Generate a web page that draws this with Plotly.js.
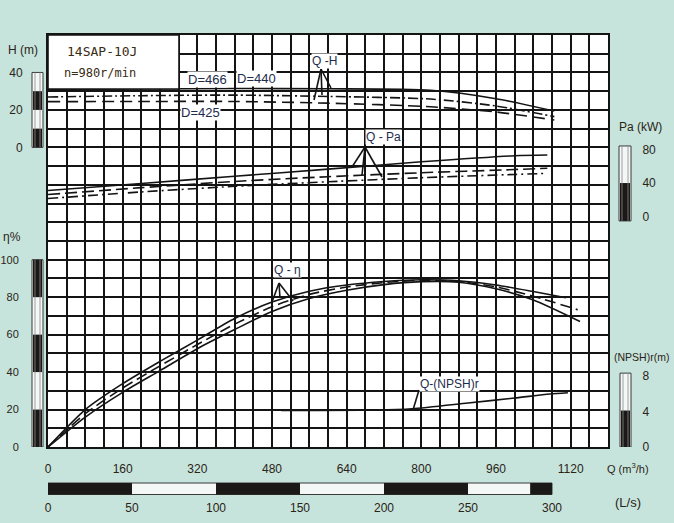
<!DOCTYPE html>
<html><head><meta charset="utf-8">
<script src="https://cdn.plot.ly/plotly-3.0.1.min.js"></script>
<style>html,body{margin:0;padding:0;background:#c6e3dc;}#chart{width:674px;height:523px;}</style>
</head><body><div id="chart"></div>
<script>
// ---------- data (Q in m3/h) ----------
const qH = [0, 200, 400, 600, 820, 960, 1085];
const hD466 = [30.9, 31.2, 31.4, 31.3, 30.5, 26.0, 19.4];
const hD440 = [26.9, 27.6, 27.9, 27.2, 25.8, 22.1, 16.4];
const hD425 = [24.4, 24.5, 24.5, 23.6, 21.7, 18.9, 14.6];

const qPa = [0, 200, 400, 600, 800, 1000, 1070];
const paD466 = [31.1, 39.5, 48.1, 56.5, 65.2, 72.4, 73.2];
const paD440 = [26.4, 34.5, 41.9, 47.5, 52.2, 56.0, 57.5];
const paD425 = [21.6, 29.4, 36.1, 41.5, 46.3, 50.2, 51.5];

const qEtaA = [0, 80, 160, 240, 320, 400, 480, 560, 640, 720, 800, 880, 960, 1040, 1110];
const etaA  = [0, 20, 33.8, 45.7, 57.1, 68.6, 77.4, 83.2, 86.5, 88.4, 89.3, 88.8, 86.5, 83.0, 79.7];
const qEtaB = [0, 80, 160, 240, 320, 400, 480, 560, 640, 720, 800, 880, 960, 1040, 1135];
const etaB  = [0, 17.8, 31.5, 43.3, 54.7, 65.6, 74.9, 81.5, 85.4, 87.8, 89.0, 88.4, 85.5, 80.5, 73.3];
const qEtaC = [0, 80, 160, 240, 320, 400, 480, 560, 640, 720, 800, 880, 960, 1040, 1140];
const etaC  = [0, 16.0, 29.2, 40.8, 52.5, 62.7, 72.4, 79.3, 83.7, 86.7, 88.3, 88.0, 84.5, 78.5, 67.0];

const qNpsh = [500, 700, 780, 900, 1000, 1075, 1114];
const npsh  = [4.1, 4.15, 4.3, 4.95, 5.5, 5.95, 6.1];

// ---------- ticks / labels ----------
const qTicks = [0, 160, 320, 480, 640, 800, 960, 1120];
const lsTicks = [0, 50, 100, 150, 200, 250, 300];
const etaTicks = [0, 20, 40, 60, 80, 100];
const hTicks = [0, 20, 40];
const paTicks = [0, 40, 80];
const npshTicks = [0, 4, 8];
const lsBlack = [[0, 50], [100, 150], [200, 250], [287, 300]];
const hBlack = [[0, 10], [20, 30]];
const etaBlack = [[0, 20], [40, 60], [80, 100]];
const paBlack = [[-5, 40]];
const npshBlack = [[0, 4.1]];

// ---------- geometry helpers (layout only) ----------
const L = 48, R = 608, T = 35, B = 447;
const xp = px => (px - L) / (R - L);
const yp = py => (B - py) / (B - T);

const xGrid = []; for (let v = 0; v <= 1200; v += 40) xGrid.push(v);
const yGrid = []; for (let v = 0; v <= 220; v += 10) yGrid.push(v);

const ink = '#141414';
function line(x, y, yaxis, dash, name) {
  return {x: x, y: y, yaxis: yaxis, name: name, mode: 'lines', hoverinfo: 'skip',
          line: {color: ink, width: 1.6, dash: dash, shape: 'spline', smoothing: 0.7}};
}
const traces = [
  line(qH, hD466, 'y2', 'solid', 'H D466'),
  line(qH, hD440, 'y2', '10px,3px,2px,3px', 'H D440'),
  line(qH, hD425, 'y2', '12px,6px', 'H D425'),
  line(qPa, paD466, 'y3', 'solid', 'Pa D466'),
  line(qPa, paD440, 'y3', '12px,5px', 'Pa D440'),
  line(qPa, paD425, 'y3', '10px,4px,2px,4px', 'Pa D425'),
  line(qEtaA, etaA, 'y', 'solid', 'eta A'),
  line(qEtaB, etaB, 'y', '11px,5px', 'eta B'),
  line(qEtaC, etaC, 'y', 'solid', 'eta C'),
  line(qNpsh, npsh, 'y4', 'solid', 'NPSH'),
  {x: lsTicks, y: lsTicks.map(() => null), xaxis: 'x2', yaxis: 'y', mode: 'lines', hoverinfo: 'skip', showlegend: false}
];

// ---------- shapes ----------
const shapes = [];
shapes.push({type: 'rect', xref: 'paper', yref: 'paper', x0: xp(48), x1: xp(179), y0: yp(89), y1: yp(35),
             fillcolor: '#ffffff', line: {color: ink, width: 1.6}, layer: 'above'});
function vbar(yref, pxL, pxR, v0, v1, blacks) {
  shapes.push({type: 'rect', xref: 'paper', yref: yref, x0: xp(pxL), x1: xp(pxR), y0: v0, y1: v1,
               fillcolor: '#f3f7f5', line: {color: '#3a3a3a', width: 1}});
  blacks.forEach(s => shapes.push({type: 'rect', xref: 'paper', yref: yref, x0: xp(pxL + 1), x1: xp(pxR - 1),
               y0: s[0], y1: s[1], fillcolor: '#1b1917', line: {width: 0}}));
  [pxL + 3, pxR - 3].forEach(p => shapes.push({type: 'line', xref: 'paper', yref: yref, x0: xp(p), x1: xp(p),
               y0: v0, y1: v1, line: {color: '#8a8a8a', width: 0.8}}));
}
vbar('y2', 32, 43, 0, 40, hBlack);
vbar('y', 32, 43, 0, 100, etaBlack);
vbar('y3', 619, 631, -5, 84, paBlack);
vbar('y4', 620, 631, 0, 8.3, npshBlack);
shapes.push({type: 'rect', xref: 'x2', yref: 'paper', x0: 0, x1: 300, y0: yp(494.5), y1: yp(483),
             fillcolor: '#f3f7f5', line: {color: '#3a3a3a', width: 1}});
lsBlack.forEach(s => shapes.push({type: 'rect', xref: 'x2', yref: 'paper', x0: s[0], x1: s[1],
             y0: yp(494.5), y1: yp(483), fillcolor: '#1b1917', line: {width: 0}}));
// leader lines (label pointers)
function leader(apex, ends) {
  ends.forEach(e => shapes.push({type: 'line', xref: 'paper', yref: 'paper', x0: xp(apex[0]), y0: yp(apex[1]),
    x1: xp(e[0]), y1: yp(e[1]), line: {color: ink, width: 1.6}, layer: 'above'}));
}
leader([321, 69], [[314, 100], [322, 95], [331, 88]]);
leader([365, 147], [[352, 167], [362, 175], [382, 177]]);
leader([279, 283], [[272, 302], [280, 298], [293, 301]]);
leader([419, 390], [[413, 410]]);

// ---------- annotations ----------
const ann = [];
const txtCol = '#2b2416';
function label(text, px, py, opts) {
  ann.push(Object.assign({text: text, xref: 'paper', yref: 'paper', x: xp(px), y: yp(py),
    xanchor: 'center', yanchor: 'middle', showarrow: false, font: {size: 12, color: txtCol}}, opts || {}));
}
label('H (m)', 23, 50);
label('η%', 12, 237);
label('Pa (kW)', 640, 127);
label('(NPSH)r(m)', 612, 357, {xanchor: 'left', font: {size: 10.5, color: txtCol}});
label('Q (m<sup>3</sup>/h)', 628, 468, {font: {size: 11, color: txtCol}});
label('(L/s)', 628, 502, {font: {size: 13, color: txtCol}});
label('14SAP-10J', 102, 52, {font: {family: 'DejaVu Sans Mono, monospace', size: 13, color: '#3a2c14'}});
label('n=980r/min', 100, 73, {font: {family: 'DejaVu Sans Mono, monospace', size: 12, color: '#3a2c14'}});
const dCol = '#1d2c4c';
const wb = {bgcolor: '#ffffff', borderpad: 0};
label('D=466', 207, 80, Object.assign({font: {size: 13, color: dCol}}, wb));
label('D=440', 256, 79, Object.assign({font: {size: 13, color: dCol}}, wb));
label('D=425', 201, 112, Object.assign({font: {size: 13, color: dCol}}, wb));
label('Q -H', 324, 61, Object.assign({font: {size: 12, color: dCol}}, wb));
label('Q - Pa', 383, 137, Object.assign({font: {size: 12, color: dCol}}, wb));
label('Q - η', 287, 270, Object.assign({font: {size: 12, color: dCol}}, wb));
label('Q-(NPSH)r', 449, 384, Object.assign({font: {size: 12, color: dCol}}, wb));

const tickCol = '#2b2416';
const gridStyle = {showgrid: true, gridcolor: ink, gridwidth: 2, ticks: ''};
const layout = {
  width: 674, height: 523,
  margin: {l: L, r: 674 - R, t: T, b: 523 - B, pad: 0},
  paper_bgcolor: '#c6e3dc', plot_bgcolor: '#ffffff',
  showlegend: false,
  font: {family: 'Arial, "Liberation Sans", sans-serif', size: 12, color: tickCol},
  xaxis: {range: [0, 1200], tickmode: 'array', tickvals: qTicks,
          showgrid: true, gridcolor: ink, gridwidth: 2, zeroline: false,
          minor: Object.assign({tickmode: 'array', tickvals: xGrid}, gridStyle),
          showline: true, linecolor: ink, linewidth: 2, mirror: true,
          ticks: 'outside', ticklen: 10, tickcolor: 'rgba(0,0,0,0)', tickfont: {size: 12, color: tickCol}},
  xaxis2: {overlaying: 'x', anchor: 'y', side: 'bottom', range: [0, 1200 / 3.6],
           tickmode: 'array', tickvals: lsTicks, showgrid: false, zeroline: false, showline: false,
           ticks: 'outside', ticklen: 50, tickcolor: 'rgba(0,0,0,0)', tickfont: {size: 12, color: tickCol}},
  yaxis: {range: [0, 220], tickmode: 'array', tickvals: etaTicks,
          showgrid: true, gridcolor: ink, gridwidth: 2, zeroline: false,
          minor: Object.assign({tickmode: 'array', tickvals: yGrid}, gridStyle),
          showline: true, linecolor: ink, linewidth: 2, mirror: true,
          ticks: 'outside', ticklen: 25, tickcolor: 'rgba(0,0,0,0)', tickfont: {size: 11, color: tickCol}},
  yaxis2: {overlaying: 'y', anchor: 'x', side: 'left', range: [-160, 60], tickmode: 'array', tickvals: hTicks,
           showgrid: false, zeroline: false, showline: false,
           ticks: 'outside', ticklen: 22, tickcolor: 'rgba(0,0,0,0)', tickfont: {size: 12, color: tickCol}},
  yaxis3: {overlaying: 'y', anchor: 'x', side: 'right', range: [-273.5, 215.8], tickmode: 'array', tickvals: paTicks,
           showgrid: false, zeroline: false, showline: false,
           ticks: 'outside', ticklen: 31, tickcolor: 'rgba(0,0,0,0)', tickfont: {size: 12, color: tickCol}},
  yaxis4: {overlaying: 'y', anchor: 'x', side: 'right', range: [0, 46.3], tickmode: 'array', tickvals: npshTicks,
           showgrid: false, zeroline: false, showline: false,
           ticks: 'outside', ticklen: 31, tickcolor: 'rgba(0,0,0,0)', tickfont: {size: 12, color: tickCol}},
  shapes: shapes,
  annotations: ann
};
Plotly.newPlot('chart', traces, layout, {staticPlot: true, displayModeBar: false});
</script></body></html>
